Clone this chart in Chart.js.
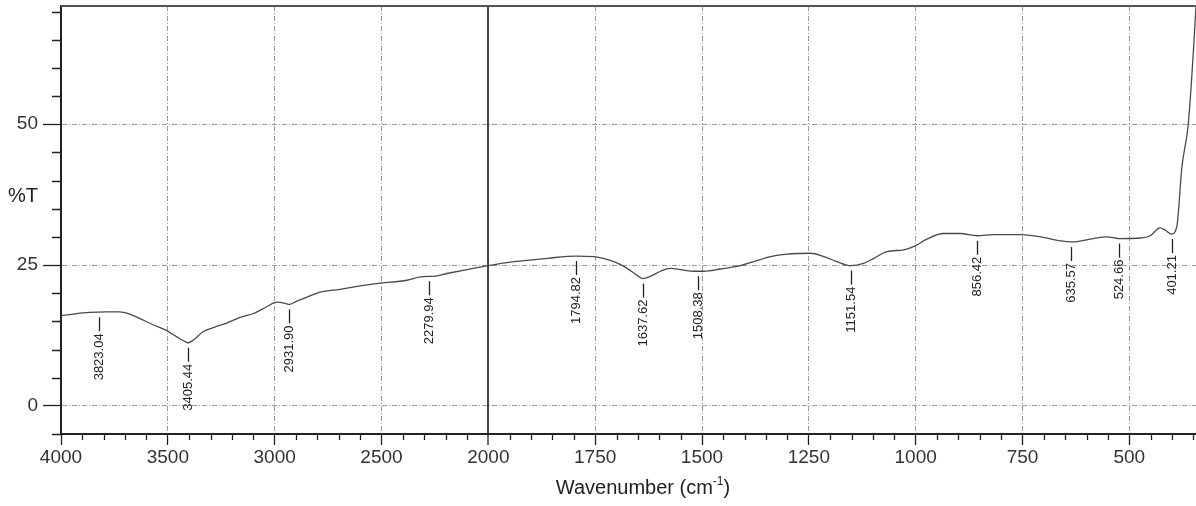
<!DOCTYPE html>
<html>
<head>
<meta charset="utf-8">
<script src="https://cdn.jsdelivr.net/npm/chart.js@4.4.1/dist/chart.umd.min.js"></script>
<style>
  html, body { margin: 0; padding: 0; background: #fff; }
  #wrap { width: 1196px; height: 506px; position: relative; }
</style>
</head>
<body>
<div id="wrap"><canvas id="ftirGraph"></canvas></div>
<script>
// spectrum
const wavenumber = [4000, 3943, 3865, 3787, 3725, 3678, 3631, 3569, 3507, 3460, 3413, 3405, 3380, 3334, 3287, 3224, 3162, 3099, 3037, 2990, 2951, 2932, 2896, 2849, 2787, 2694, 2600, 2506, 2381, 2319, 2280, 2256, 2194, 2100, 2000, 1940, 1862, 1795, 1753, 1706, 1675, 1652, 1638, 1621, 1597, 1574, 1550, 1519, 1508, 1496, 1457, 1410, 1379, 1340, 1301, 1246, 1215, 1184, 1152, 1122, 1098, 1067, 1028, 1001, 974, 935, 896, 856, 818, 755, 708, 661, 636, 584, 552, 525, 474, 451, 428, 416, 401, 389, 377, 362, 350, 344];
const transmittance = [16.0, 16.3, 16.6, 16.7, 16.7, 16.3, 15.5, 14.4, 13.4, 12.3, 11.3, 11.2, 11.7, 13.2, 13.9, 14.7, 15.7, 16.4, 17.6, 18.4, 18.2, 18.0, 18.6, 19.3, 20.2, 20.7, 21.3, 21.8, 22.3, 22.9, 23.0, 23.0, 23.5, 24.2, 24.9, 25.6, 26.2, 26.6, 26.5, 25.6, 24.4, 23.2, 22.6, 23.0, 23.9, 24.4, 24.2, 23.9, 23.9, 23.9, 24.3, 24.9, 25.6, 26.5, 26.95, 27.1, 26.5, 25.6, 24.9, 25.3, 26.2, 27.4, 27.7, 28.4, 29.6, 30.6, 30.6, 30.2, 30.4, 30.4, 30.0, 29.3, 29.1, 29.7, 30.0, 29.7, 29.8, 30.2, 31.6, 31.2, 30.5, 31.8, 42.4, 50.1, 63.1, 71.0];

// picked peaks
const peakWavenumbers = [3823.04, 3405.44, 2931.90, 2279.94, 1794.82, 1637.62, 1508.38, 1151.54, 856.42, 635.57, 524.66, 401.21];
const peakTransmittance = [16.6, 11.2, 18.0, 23.0, 26.6, 22.6, 23.9, 24.9, 30.2, 29.1, 29.7, 30.5];

// axis ticks
const xTickLabels = [4000, 3500, 3000, 2500, 2000, 1750, 1500, 1250, 1000, 750, 500];
const yTickLabels = [0, 25, 50];
const BREAK_AT = 2000;

const xMinor = [];
for (let v = 3900; v > 2000; v -= 100) if (v % 500) xMinor.push(v);
for (let v = 1950; v >= 350; v -= 50) if (v % 250) xMinor.push(v);
const yMinor = [];
for (let v = -5; v <= 70; v += 5) if (!yTickLabels.includes(v)) yMinor.push(v);

// above 2000 cm-1 the axis is compressed by half
class BrokenLinearScale extends Chart.LinearScale {
  squeeze(v) { return v > BREAK_AT ? BREAK_AT + (v - BREAK_AT) / 2 : v; }
  getPixelForValue(v) {
    if (v === null || v === undefined) return NaN;
    const lo = this.squeeze(this.min), hi = this.squeeze(this.max);
    return this.getPixelForDecimal((this.squeeze(v) - lo) / (hi - lo));
  }
  getValueForPixel(p) {
    const lo = this.squeeze(this.min), hi = this.squeeze(this.max);
    const u = lo + this.getDecimalForPixel(p) * (hi - lo);
    return u > BREAK_AT ? BREAK_AT + (u - BREAK_AT) * 2 : u;
  }
}
BrokenLinearScale.id = 'brokenLinear';
BrokenLinearScale.defaults = Chart.LinearScale.defaults;
Chart.register(BrokenLinearScale);

const FONT = "'Liberation Sans', Arial, sans-serif";

const extras = {
  id: 'extras',
  afterDraw(chart) {
    const { ctx, chartArea: a, scales: { x, y } } = chart;
    ctx.save();
    // top frame
    ctx.strokeStyle = '#555';
    ctx.lineWidth = 2;
    ctx.beginPath();
    ctx.moveTo(a.left, a.top);
    ctx.lineTo(a.right, a.top);
    ctx.stroke();

    // minor ticks
    ctx.strokeStyle = '#222';
    ctx.lineWidth = 1.3;
    ctx.beginPath();
    xMinor.forEach(v => {
      const px = Math.round(x.getPixelForValue(v)) + 0.5;
      ctx.moveTo(px, a.bottom);
      ctx.lineTo(px, a.bottom + 6);
    });
    yMinor.forEach(v => {
      const py = Math.round(y.getPixelForValue(v)) + 0.5;
      ctx.moveTo(a.left - 9, py);
      ctx.lineTo(a.left, py);
    });
    ctx.stroke();

    // peak labels
    ctx.font = '13px ' + FONT;
    ctx.fillStyle = '#222';
    ctx.strokeStyle = '#222';
    ctx.lineWidth = 1.3;
    peakWavenumbers.forEach((w, i) => {
      const px = Math.round(x.getPixelForValue(w)) + 0.5;
      const py = y.getPixelForValue(peakTransmittance[i]);
      ctx.beginPath();
      ctx.moveTo(px, py + 5);
      ctx.lineTo(px, py + 19);
      ctx.stroke();
      ctx.save();
      ctx.translate(px, py + 21);
      ctx.rotate(-Math.PI / 2);
      ctx.textAlign = 'right';
      ctx.textBaseline = 'middle';
      ctx.fillText(w.toFixed(2), 0, 0);
      ctx.restore();
    });

    // axis titles
    ctx.fillStyle = '#222';
    ctx.font = '20px ' + FONT;
    ctx.textAlign = 'left';
    ctx.textBaseline = 'middle';
    ctx.fillText('%T', 8, y.getPixelForValue(37.2));

    ctx.textBaseline = 'alphabetic';
    const main = 'Wavenumber (cm';
    const sup = '-1';
    ctx.font = '20px ' + FONT;
    const w1 = ctx.measureText(main).width;
    const w3 = ctx.measureText(')').width;
    ctx.font = '12px ' + FONT;
    const w2 = ctx.measureText(sup).width;
    let tx = 643 - (w1 + w2 + w3) / 2;
    const ty = 494;
    ctx.font = '20px ' + FONT;
    ctx.fillText(main, tx, ty);
    tx += w1;
    ctx.font = '12px ' + FONT;
    ctx.fillText(sup, tx, ty - 9);
    tx += w2;
    ctx.font = '20px ' + FONT;
    ctx.fillText(')', tx, ty);
    ctx.restore();
  }
};

const gridDash = ctx => (ctx.tick && ctx.tick.value === BREAK_AT) ? [] : [5, 2, 1, 2];

const ftirChart = new Chart(document.getElementById('ftirGraph'), {
  type: 'line',
  data: {
    datasets: [{
      label: '%T',
      data: wavenumber.map((w, i) => ({ x: w, y: transmittance[i] })),
      borderColor: '#4a4a4a',
      borderWidth: 1.3,
      pointRadius: 0,
      fill: false,
      cubicInterpolationMode: 'monotone',
    }]
  },
  options: {
    responsive: true,
    maintainAspectRatio: false,
    animation: false,
    layout: { padding: { top: 6, right: 0, left: 0, bottom: 0 } },
    plugins: {
      legend: { display: false },
      tooltip: { enabled: false },
    },
    scales: {
      x: {
        type: 'brokenLinear',
        min: 344,
        max: 4000,
        reverse: true,
        afterBuildTicks: s => { s.ticks = xTickLabels.map(value => ({ value })); },
        afterFit: s => { s.height = 72; s.paddingLeft = 0; s.paddingRight = 0; },
        ticks: {
          autoSkip: false,
          maxRotation: 0,
          padding: 1,
          color: '#333',
          font: { family: FONT, size: 19 },
          callback: v => String(v),
        },
        grid: {
          color: ctx => ctx.tick && ctx.tick.value === BREAK_AT ? '#444' : '#9a9a9a',
          lineWidth: ctx => ctx.tick && ctx.tick.value === BREAK_AT ? 2 : 1,
          tickColor: '#222',
          tickLength: 11,
          tickWidth: 1.3,
        },
        border: { color: '#222', width: 2, dash: gridDash },
      },
      y: {
        min: -5,
        max: 71,
        afterBuildTicks: s => { s.ticks = yTickLabels.map(value => ({ value })); },
        afterFit: s => { s.width = 61; s.paddingTop = 0; s.paddingBottom = 0; },
        ticks: {
          padding: 5,
          color: '#333',
          font: { family: FONT, size: 19 },
          callback: v => String(v),
        },
        grid: {
          color: '#9a9a9a',
          lineWidth: 1,
          tickColor: '#222',
          tickLength: 18,
          tickWidth: 1.3,
        },
        border: { color: '#222', width: 2, dash: gridDash },
      }
    }
  },
  plugins: [extras]
});
</script>
</body>
</html>
